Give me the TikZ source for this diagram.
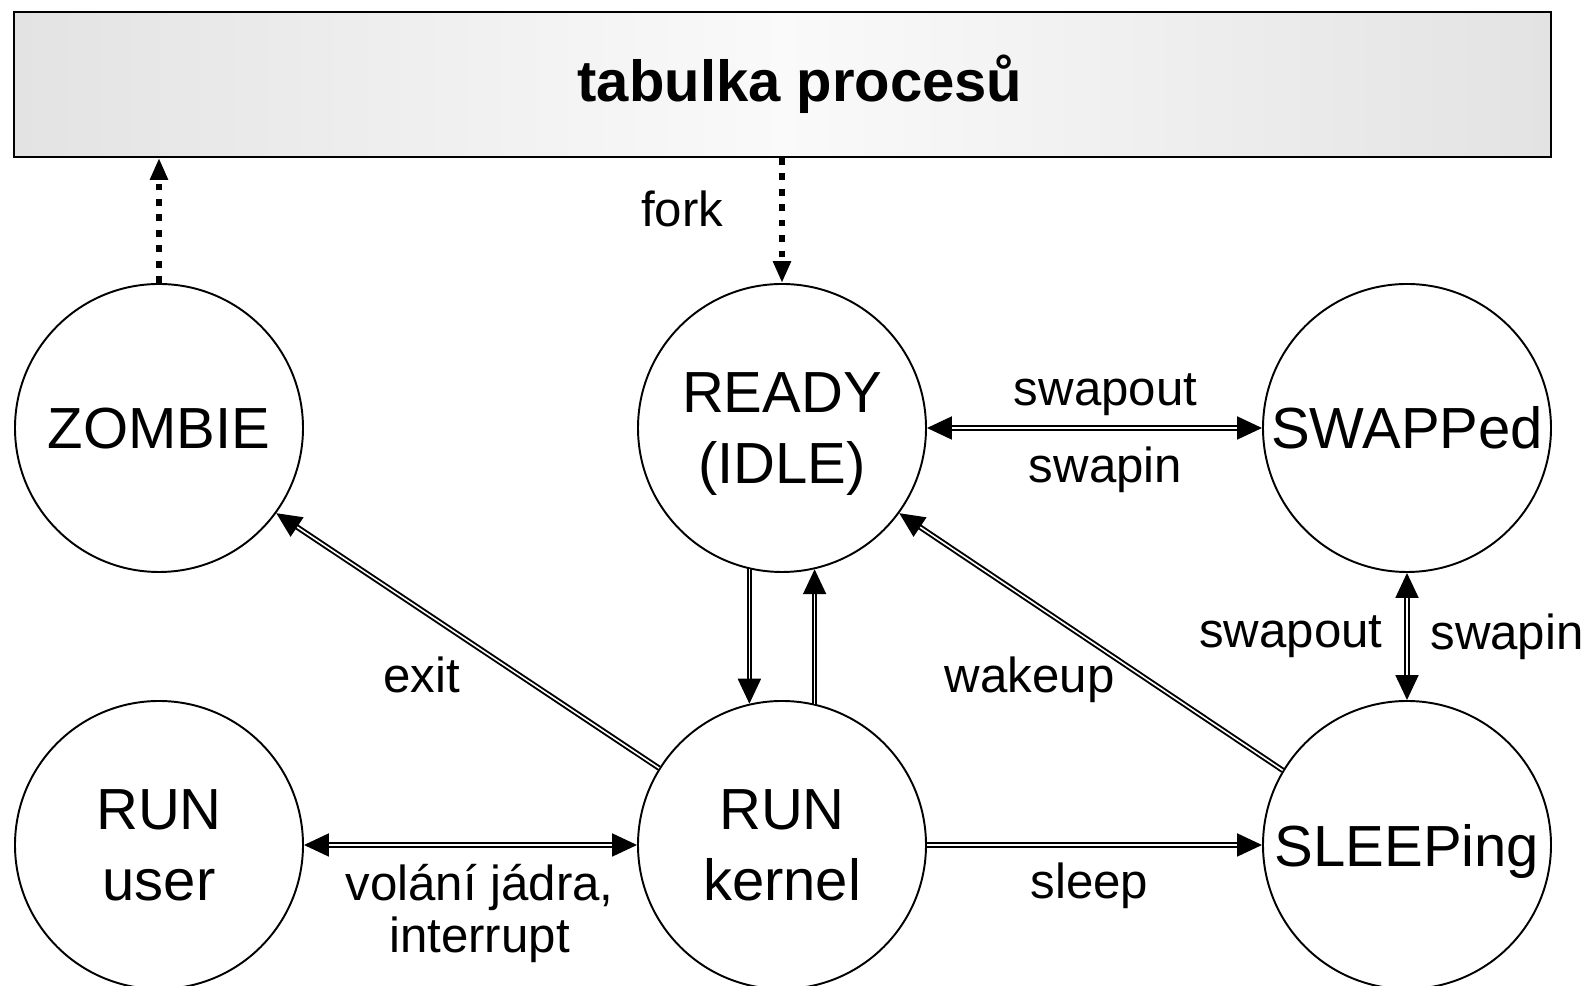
\documentclass[tikz,border=0pt]{standalone}
\usepackage{fontspec}
\setmainfont{Liberation Sans}
\usetikzlibrary{arrows.meta}

\tikzset{
  state/.style={circle,draw,line width=1.1pt,minimum size=5.76cm,inner sep=0pt,
    align=center,text depth=0pt,font=\fontsize{33}{40}\selectfont},
  trans/.style={double,double distance=0.9pt,line width=1.1pt},
  dots/.style={line width=3.6pt,dash pattern=on 3.8pt off 5pt,
    -{Triangle[length=0.44cm,width=0.34cm]}},
  lbl/.style={inner sep=0pt,align=center,font=\fontsize{28}{30}\selectfont},
  tab/.style={draw,line width=1.1pt,minimum width=30.74cm,minimum height=2.9cm,
    left color=black!11,right color=black!11,middle color=black!2,
    font=\fontsize{33}{40}\selectfont\bfseries}
}

\begin{document}
\begin{tikzpicture}[>={Triangle[length=0.5cm,width=0.46cm]}]
  \useasboundingbox (0,0) rectangle (31.74,19.72);

  \node[tab] (table) at (15.65,18.03) {\hspace*{0.7cm}tabulka procesů};

  \node[state] (zombie) at (3.18,11.16) {ZOMBIE};
  \node[state] (ready) at (15.64,11.16) {READY\\(IDLE)};
  \node[state] (swapped) at (28.14,11.16) {SWAPPed};
  \node[state] (user) at (3.18,2.82) {RUN\\user};
  \node[state] (kernel) at (15.64,2.82) {RUN\\kernel};
  \node[state] (sleeping) at (28.14,2.82) {SLEEPing};

  % tabulka
  \draw[dots] (zombie) -- (zombie |- table.south);
  \draw[dots] (table.south -| ready) -- node[lbl,pos=0.41,left=1.11cm] {fork} (ready);

  % prechody
  \draw[trans,<->] (ready) -- node[lbl,above=0.22cm,xshift=0.22cm] {swapout}
    node[lbl,below=0.35cm,xshift=0.22cm] {swapin} (swapped);
  \draw[trans,<->] (swapped) -- node[lbl,left=0.47cm] {swapout}
    node[lbl,right=0.45cm] {swapin} (sleeping);
  \draw[trans,<->] (user) -- node[lbl,below=0.36cm,xshift=0.18cm] {volání jádra,\\interrupt} (kernel);
  \draw[trans,->] (kernel) -- node[lbl,below=0.34cm,xshift=-0.1cm] {sleep} (sleeping);
  \draw[trans,->] (ready.-103) -- (kernel.103);
  \draw[trans,->] (kernel.77) -- (ready.-77);
  \draw[trans,->] (kernel.148) -- node[lbl,pos=0.62,yshift=-1.3cm] {exit} (zombie.-36);
  \draw[trans,->] (sleeping.149) -- node[lbl,pos=0.66,yshift=-1.58cm] {wakeup} (ready.-36);
\end{tikzpicture}
\end{document}
